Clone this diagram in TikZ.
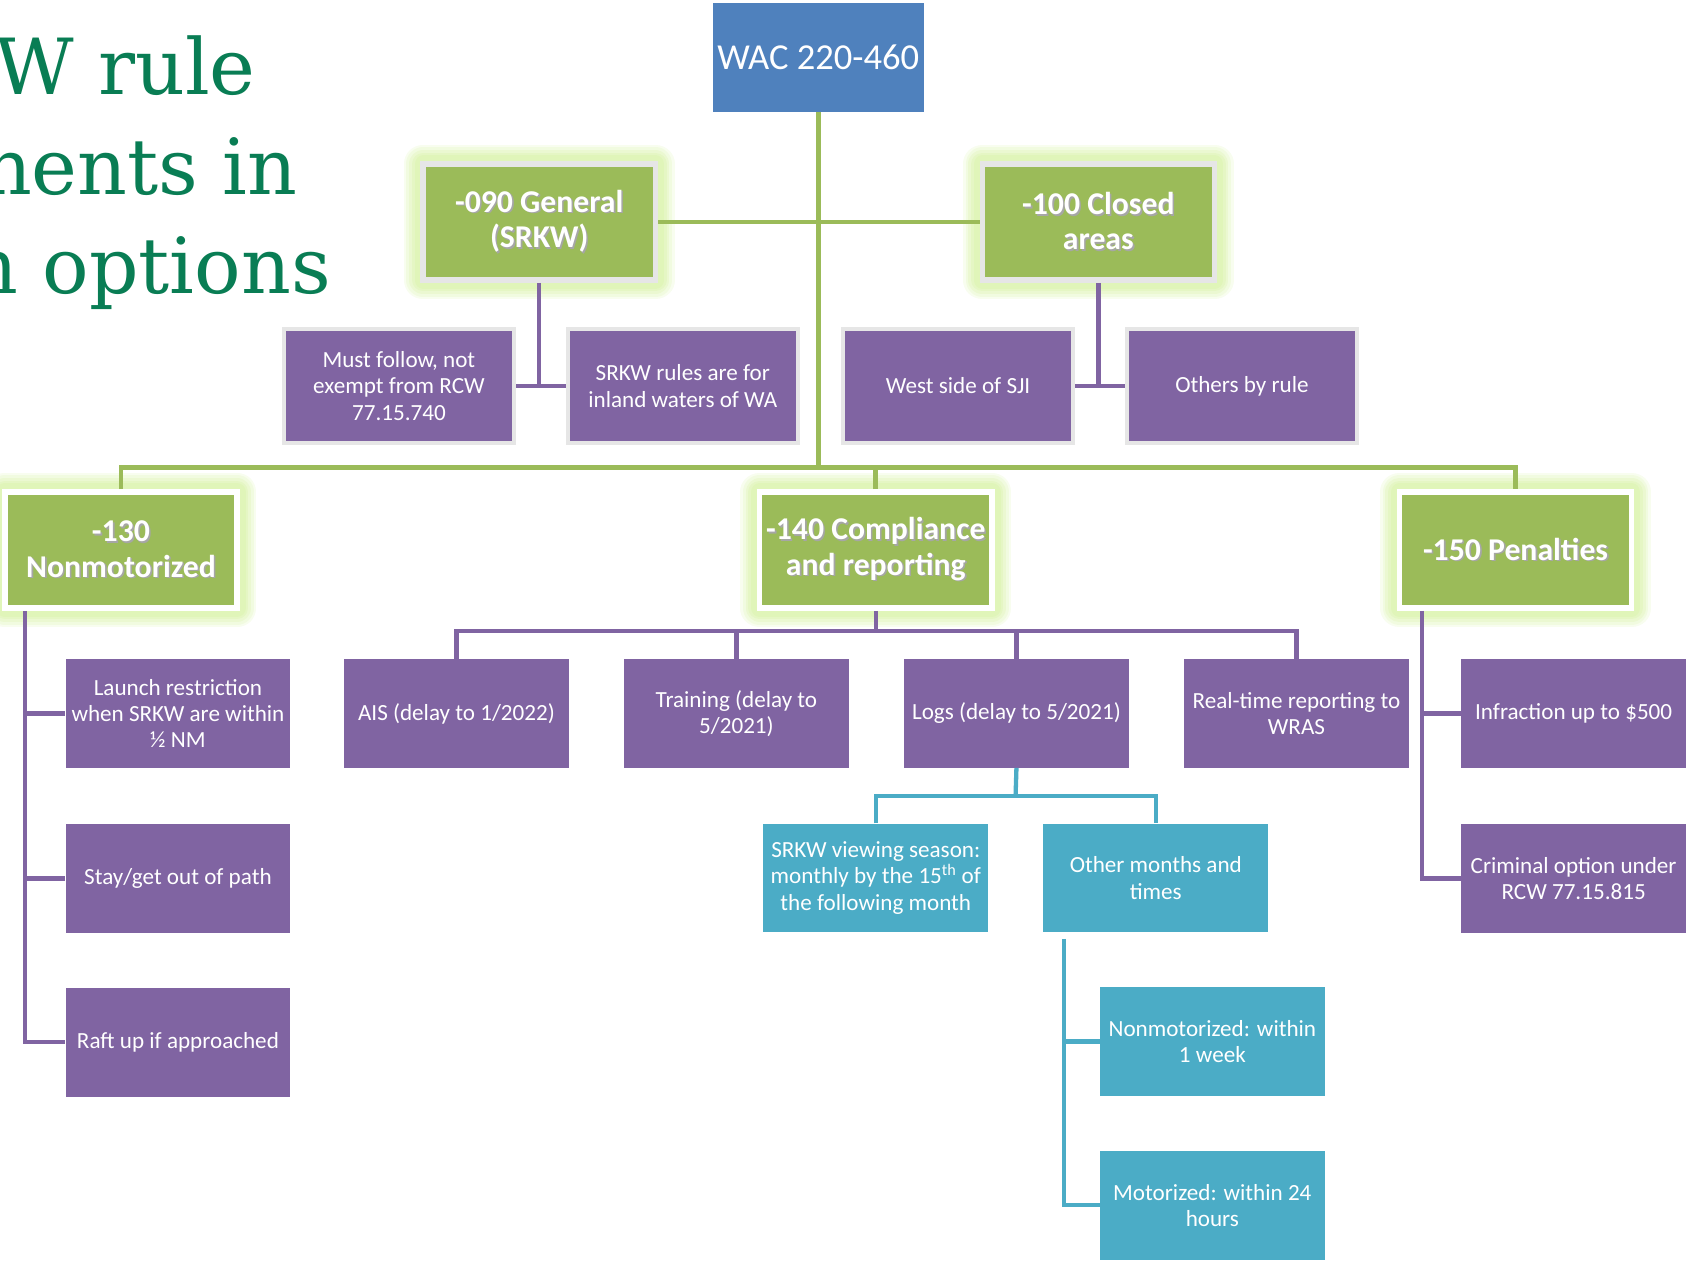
\documentclass[tikz,border=0pt]{standalone}
\usepackage{fontspec}
\setmainfont{Carlito}
\newfontfamily\titlefont{DejaVu Serif}
\usetikzlibrary{positioning}

\definecolor{wacblue}{RGB}{79,129,189}
\definecolor{rulegreen}{RGB}{155,187,89}
\definecolor{glowgreen}{RGB}{215,242,165}
\definecolor{rulepurple}{RGB}{128,100,162}
\definecolor{ruleteal}{RGB}{75,172,198}
\definecolor{titlegreen}{RGB}{9,125,84}
\definecolor{edgegray}{RGB}{230,230,230}

% white text with a soft drop shadow
\newcommand{\shtxt}[1]{\leavevmode\rlap{\hspace{1.5pt}\raisebox{-1.5pt}{\textcolor{black!35}{#1}}}#1}

\tikzset{
    rootbox/.style={fill=wacblue, text=white, font=\fontsize{34}{38}\selectfont,
        minimum width=196pt, minimum height=101pt, inner sep=0pt},
    sectionbox/.style={fill=rulegreen, draw=white, line width=5pt, text=white,
        font=\fontsize{29.5}{33}\selectfont\bfseries, align=center,
        minimum width=216pt, minimum height=108pt, inner sep=0pt,
        preaction={draw=glowgreen, line width=36pt, draw opacity=0.18, line join=round},
        preaction={draw=glowgreen, line width=31pt, draw opacity=0.2, line join=round},
        preaction={draw=glowgreen, line width=26pt, draw opacity=0.25, line join=round},
        preaction={draw=glowgreen, line width=21pt, draw opacity=0.3, line join=round},
        preaction={draw=glowgreen, line width=16pt, draw opacity=0.35, line join=round}},
    notebox/.style={fill=rulepurple, draw=edgegray, line width=4pt, text=white,
        font=\fontsize{21.5}{24.5}\selectfont, align=center,
        minimum width=214pt, minimum height=106pt, inner sep=0pt},
    leafbox/.style={fill=rulepurple, text=white, font=\fontsize{21.5}{24.5}\selectfont,
        align=center, minimum width=209pt, minimum height=101pt, inner sep=0pt},
    tealbox/.style={leafbox, fill=ruleteal},
    titletext/.style={text=titlegreen, font=\titlefont\fontsize{72}{80}\selectfont, inner sep=0pt},
    gline/.style={draw=rulegreen, line width=4.5pt},
    pline/.style={draw=rulepurple, line width=4pt},
    tline/.style={draw=ruleteal, line width=4pt}
}

\begin{document}
\begin{tikzpicture}[x=1pt, y=-1pt]
    \useasboundingbox (0,0) rectangle (1568,1172);

    % Title (cut at the left edge)
    \node (t1) [titletext, anchor=base east] at (238,88) {W rule};
    \node (t2) [titletext, anchor=base east] at (277,181) {nents in};
    \node (t3) [titletext, anchor=base east] at (308,273) {n options};

    % Node definitions
    \node (wac) [rootbox] at (761,53.5) {WAC 220-460};

    \node (gen) [sectionbox, draw=edgegray] at (501.5,206.5) {\shtxt{-090 General}\\\shtxt{(SRKW)}};
    \node (closed) [sectionbox, draw=edgegray] at (1021.5,206.5) {\shtxt{-100 Closed}\\\shtxt{areas}};

    \node (must) [notebox] at (371,359) {Must follow, not\\exempt from RCW\\77.15.740};
    \node (srkwin) [notebox, right=46pt of must] {SRKW rules are for\\inland waters of WA};
    \node (west) [notebox] at (891,359) {West side of SJI};
    \node (others) [notebox, right=46pt of west] {Others by rule};

    \node (nonmot) [sectionbox] at (112.5,511.5) {\shtxt{-130}\\\shtxt{Nonmotorized}};
    \node (comp) [sectionbox] at (814.5,511.5) {\shtxt{-140 Compliance}\\\shtxt{and reporting}};
    \node (pen) [sectionbox] at (1409.5,511.5) {\shtxt{-150 Penalties}};

    \node (launch) [leafbox] at (165.5,663.5) {Launch restriction\\when SRKW are within\\½ NM};
    \node (stay) [leafbox, below=52pt of launch] {Stay/get out of path};
    \node (raft) [leafbox, below=51pt of stay] {Raft up if approached};

    \node (ais) [leafbox] at (424.5,663.5) {AIS (delay to 1/2022)};
    \node (train) [leafbox, right=51pt of ais] {Training (delay to\\5/2021)};
    \node (logs) [leafbox, right=51pt of train] {Logs (delay to 5/2021)};
    \node (real) [leafbox, right=51pt of logs] {Real-time reporting to\\WRAS};

    \node (view) [tealbox] at (814.5,816.5) {SRKW viewing season:\\monthly by the 15\textsuperscript{th} of\\the following month};
    \node (other) [tealbox, right=51pt of view] {Other months and\\times};
    \node (nonwk) [tealbox] at (1127.5,968.5) {Nonmotorized: within\\1 week};
    \node (motor) [tealbox, below=51pt of nonwk] {Motorized: within 24\\hours};

    \node (infr) [leafbox] at (1463.5,663.5) {Infraction up to \$500};
    \node (crim) [leafbox, below=52pt of infr] {Criminal option under\\RCW 77.15.815};

    % Connectors
    \coordinate (trunk) at (761,435);
    \draw[gline] (wac.south) -- (trunk);
    \draw[gline] (gen.east) -- (closed.west);
    \draw[gline] (nonmot.north) |- (trunk) -| (pen.north);
    \draw[gline] (comp.north) -- (comp.north |- trunk);

    \draw[pline] (gen.south) -- (gen.south |- must.east);
    \draw[pline] (must.east) -- (srkwin.west);
    \draw[pline] (closed.south) -- (closed.south |- west.east);
    \draw[pline] (west.east) -- (others.west);

    \coordinate (nspine) at ([xshift=21.5pt]nonmot.south west);
    \draw[pline] (nspine) |- (raft.west);
    \draw[pline] (nspine |- launch.west) -- (launch.west);
    \draw[pline] (nspine |- stay.west) -- (stay.west);

    \coordinate (cbus) at (814.5,587);
    \draw[pline] (comp.south) -- (cbus);
    \draw[pline] (ais.north) |- (cbus) -| (real.north);
    \draw[pline] (train.north) -- (train.north |- cbus);
    \draw[pline] (logs.north) -- (logs.north |- cbus);

    \coordinate (lbus) at (944.5,740);
    \draw[tline] (logs.south) -- (lbus);
    \draw[tline] (view.north) |- (lbus) -| (other.north);

    \coordinate (ospine) at ([xshift=19pt, yshift=-6pt]other.south west);
    \draw[tline] (ospine) |- (motor.west);
    \draw[tline] (ospine |- nonwk.west) -- (nonwk.west);

    \coordinate (pspine) at ([xshift=23.5pt]pen.south west);
    \draw[pline] (pspine) |- (crim.west);
    \draw[pline] (pspine |- infr.west) -- (infr.west);
\end{tikzpicture}
\end{document}
